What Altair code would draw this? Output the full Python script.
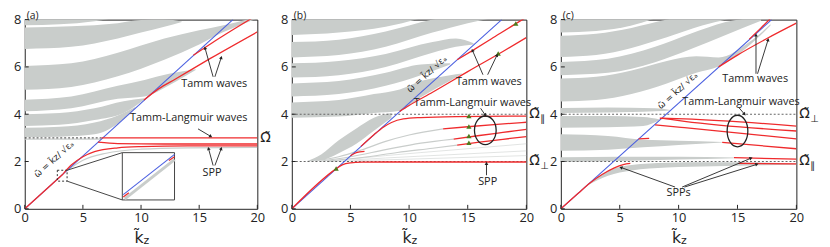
import math
import altair as alt
import pandas as pd

# ------------------------------------------------------------------ data
KZ_TICKS = [0, 5, 10, 15, 20]
W_TICKS = [0, 2, 4, 6, 8]
LIGHT_KZ = [0, 17.9]
LIGHT_W = [0, 8.0]

# ---- panel (a)
A_BANDS = {
    "a0": ([0, 3, 6, 7.5], [7.76, 7.8, 7.93, 8.05], [8.5, 8.5, 8.5, 8.5]),
    "a1": ([0, 4, 8, 10, 12, 13.5], [6.76, 6.85, 7.2, 7.45, 7.7, 7.9], [7.67, 7.72, 7.85, 7.98, 8.0, 7.92]),
    "a2": ([0, 4, 8, 12, 15, 17, 20], [5.03, 5.15, 5.6, 6.3, 6.95, 7.45, 8.05], [6.04, 6.15, 6.6, 7.2, 7.55, 7.75, 8.12]),
    "a3": ([0, 4, 8, 10.3, 12.5, 14.7], [4.12, 4.25, 4.65, 4.75, 5.25, 5.87], [4.61, 4.75, 5.2, 5.45, 5.72, 5.9]),
    "a4": ([0, 3, 6, 8.5, 10.3], [3.5, 3.55, 3.75, 4.05, 4.62], [4.0, 4.05, 4.25, 4.55, 4.67]),
    "a5": ([0, 3, 6, 8, 9.5], [3.03, 3.05, 3.15, 3.6, 4.25], [3.43, 3.47, 3.65, 3.95, 4.3]),
}
A_GREY = {
    "g1": ([3.6, 5, 7, 10, 14, 20], [1.6, 2.05, 2.35, 2.52, 2.58, 2.6]),
    "g2": ([0, 6.6], [2.95, 2.95]),
}
A_RED = {
    "ll": ([0, 3.3], [0, 1.47]),
    "spp1": ([3.3, 4, 5, 6, 8, 10, 14, 20], [1.48, 1.85, 2.2, 2.42, 2.58, 2.63, 2.66, 2.66]),
    "spp2": ([6.3, 8, 12, 20], [2.82, 2.76, 2.74, 2.74]),
    "tl": ([6.6, 20], [3.0, 3.0]),
    "tamm1": ([14.5, 16, 18, 20], [6.49, 6.98, 7.6, 8.2]),
    "tamm2": ([10.25, 11.5, 13, 16, 20], [4.6, 5.07, 5.5, 6.37, 7.48]),
}
A_DASH = [(0, 6.6, 3.0)]

# inset of panel (a), read in the panel's own (kz, omega) units
A_ZOOMBOX = (2.8, 3.64, 1.17, 1.63)
A_INSET = (8.39, 12.88, 0.375, 2.375)
A_INSET_BLUE = ([8.47, 12.88], [0.6, 2.3])
A_INSET_GREY = ([8.6, 12.88], [0.42, 2.08])
A_INSET_RED = {"r1": ([8.47, 8.95], [0.5, 0.68]), "r2": ([12.4, 12.88], [2.04, 2.2])}

# ---- panel (b)
B_BANDS = {
    "b0": ([0, 4, 8, 11], [7.35, 7.45, 7.7, 8.05], [8.5, 8.5, 8.5, 8.5]),
    "b1": ([0, 4, 8, 12, 15, 17], [6.4, 6.5, 6.85, 7.45, 7.85, 8.05], [7.05, 7.15, 7.5, 8.0, 8.3, 8.4]),
    "b2": ([0, 4, 8, 12, 14, 15.5], [5.55, 5.65, 6.0, 6.6, 6.85, 6.95], [6.15, 6.25, 6.55, 7.05, 7.2, 7.0]),
    "b3": ([0, 4, 8, 11, 13.5], [4.75, 4.85, 5.2, 5.65, 6.1], [5.3, 5.4, 5.75, 6.1, 6.15]),
    "b4": ([0, 4, 7, 9.2, 11, 13.5, 14.5], [3.85, 3.9, 4.05, 4.15, 4.72, 5.42, 5.7], [4.5, 4.6, 4.85, 5.05, 5.4, 5.65, 5.72]),
    "b5": ([1.3, 2.5, 4, 5.5, 7, 8.5], [2.0, 2.05, 2.35, 2.75, 3.3, 3.85], [2.02, 2.3, 2.9, 3.4, 3.85, 4.05]),
}
B_GREY = {
    "g2": ([2, 4, 6, 8, 10, 12.9], [2.02, 2.2, 2.5, 2.85, 3.12, 3.38]),
    "g3": ([2.5, 5, 8, 11, 13.8], [2.02, 2.2, 2.5, 2.78, 2.95]),
    "g4": ([3, 6, 9, 12, 14.1], [2.02, 2.17, 2.38, 2.56, 2.69]),
}
B_FAINT = {
    "f1": ([3, 8, 14, 20], [2.0, 2.25, 2.5, 2.75]),
    "f2": ([3, 8, 14, 20], [2.0, 2.15, 2.3, 2.45]),
    "f3": ([3, 10, 20], [2.0, 2.1, 2.25]),
}
B_RED = {
    "spp": ([0, 3.8, 4.3, 5, 6, 8, 12, 20], [0, 1.7, 1.86, 1.94, 1.97, 1.98, 1.98, 1.98]),
    "short": ([5.0, 5.5, 6.2], [2.24, 2.38, 2.43]),
    "tl1": ([5.9, 7, 7.8, 8.5, 9.5, 11, 14, 20], [2.64, 3.13, 3.45, 3.65, 3.8, 3.86, 3.9, 3.92]),
    "tl2": ([12.9, 15, 17.5, 20], [3.38, 3.47, 3.57, 3.66]),
    "tl3": ([13.8, 16, 18, 20], [2.95, 3.1, 3.23, 3.36]),
    "tl4": ([14.1, 16, 18, 20], [2.69, 2.82, 2.94, 3.05]),
    "tamm1": ([14.1, 15.5, 17, 19, 20], [6.3, 6.72, 7.18, 7.8, 8.1]),
    "tamm2": ([9.2, 10, 12, 15, 18, 20], [4.12, 4.37, 4.93, 5.8, 6.65, 7.24]),
}
B_GREEN_KZ = [3.78, 15.1, 15.1, 15.1, 15.1, 17.6, 19.1]
B_GREEN_W = [1.7, 3.92, 3.48, 3.08, 2.79, 6.57, 7.84]
B_DASH = [(0, 20, 4.0), (0, 20, 2.0)]

# ---- panel (c)
C_BANDS = {
    "c0": ([0, 3, 6, 8], [7.46, 7.52, 7.75, 8.05], [8.5, 8.5, 8.5, 8.5]),
    "c1": ([0, 3, 6, 9, 12, 14.5], [6.42, 6.5, 6.8, 7.25, 7.75, 8.05], [7.32, 7.4, 7.65, 8.0, 8.3, 8.4]),
    "c2": ([0, 4, 8, 11, 14, 17], [5.65, 5.75, 6.2, 6.75, 7.35, 7.95], [6.21, 6.35, 6.85, 7.4, 7.9, 8.1]),
    "c3": ([0, 3, 6, 9, 11.5, 13.4, 16, 17.8], [4.54, 4.6, 4.85, 5.3, 5.75, 6.02, 6.9, 7.75],
           [5.51, 5.58, 5.85, 6.25, 6.45, 6.4, 7.05, 7.8]),
    "c4": ([0, 4, 8, 9.3], [4.05, 4.07, 4.12, 4.16], [4.26, 4.28, 4.25, 4.18]),
    "c5": ([0, 4, 7, 8.4], [3.43, 3.45, 3.5, 3.75], [3.92, 3.92, 3.88, 3.78]),
    "c6": ([0, 4, 7, 10, 13.7], [2.46, 2.5, 2.6, 2.7, 2.8], [3.15, 3.08, 2.92, 2.88, 2.83]),
    "c7": ([0, 5, 10, 14.7], [1.98, 2.02, 2.08, 2.14], [2.18, 2.2, 2.2, 2.17]),
    "c8": ([2.3, 4, 6, 9, 13, 17, 20], [1.0, 1.4, 1.62, 1.75, 1.8, 1.84, 1.86], [1.02, 1.6, 1.85, 1.95, 1.97, 1.96, 1.9]),
}
C_RED = {
    "spp": ([0, 1.5, 2.5, 3.5, 4.5, 5.3, 5.9], [0, 0.67, 1.1, 1.45, 1.72, 1.87, 1.92]),
    "short": ([6.6, 7.5], [2.96, 2.98]),
    "tl1": ([8.4, 10.5, 20], [3.83, 3.8, 3.5]),
    "tl2": ([8.6, 10.5, 20], [3.83, 3.7, 3.29]),
    "tl3": ([8.0, 10.5, 20], [3.55, 3.43, 2.96]),
    "tl4": ([13.7, 20], [2.81, 2.54]),
    "lo1": ([14.7, 20], [2.16, 2.1]),
    "lo2": ([15.1, 20], [1.92, 1.9]),
    "tamm1": ([16.0, 17, 18], [7.17, 7.65, 8.15]),
    "tamm2": ([13.4, 15, 17.5, 20], [6.0, 6.5, 7.2, 7.85]),
}
C_DASH = [(0, 20, 4.0), (0, 20, 2.0)]

# ------------------------------------------------------------------ style
H = 192
FONT = "Open Sans"
MATH = "DejaVu Sans"
RED = "#ef2b2d"
BLUE = "#4a5fe0"
BAND = "#c9cdcb"
FAINT = "#e2e4e3"
GREEN = "#4d7a1c"
INK = "#222222"

SX = alt.Scale(domain=[0, 20], nice=False, zero=False)
SY = alt.Scale(domain=[0, 8], nice=False, zero=False)
AXX = alt.Axis(values=KZ_TICKS, ticks=False, domain=False, grid=False, title=None,
               labelFlush=False, labelFont=FONT, labelFontSize=13, labelColor=INK, labelPadding=3)
AXY = alt.Axis(values=W_TICKS, ticks=False, domain=False, grid=False, title=None,
               labelFlush=False, labelFont=FONT, labelFontSize=13, labelColor=INK, labelPadding=4)


def X(f="kz"):
    return alt.X(f"{f}:Q", scale=SX, axis=AXX)


def Y(f="w"):
    return alt.Y(f"{f}:Q", scale=SY, axis=AXY)


def curves_df(d):
    rows = []
    for name, (ks, ws) in d.items():
        for i, (k, w) in enumerate(zip(ks, ws)):
            rows.append({"curve": name, "kz": k, "w": w, "i": i})
    return pd.DataFrame(rows)


def bands_df(d):
    rows = []
    for name, (ks, lo, hi) in d.items():
        for k, a, b in zip(ks, lo, hi):
            rows.append({"band": name, "kz": k, "lo": a, "hi": b})
    return pd.DataFrame(rows)


def line_layer(d, color, width, interp="monotone"):
    return alt.Chart(curves_df(d)).mark_line(color=color, strokeWidth=width, interpolate=interp, clip=True).encode(
        x=X(), y=Y(), detail="curve:N", order="i:Q")


def panel(p):
    W = p["width"]
    L = []
    L.append(alt.Chart(bands_df(p["bands"])).mark_area(color=BAND, interpolate="monotone", clip=True).encode(
        x=X(), y=Y("lo"), y2="hi:Q", detail="band:N"))
    if p.get("faint"):
        L.append(line_layer(p["faint"], FAINT, 1.0))
    if p.get("grey"):
        L.append(line_layer(p["grey"], BAND, 1.2))
    dd = pd.DataFrame([{"kz": a, "kz2": b, "w": w} for a, b, w in p["dash"]])
    L.append(alt.Chart(dd).mark_rule(color="#666666", strokeDash=[2, 2], strokeWidth=1.1).encode(
        x=X(), x2="kz2:Q", y=Y()))
    L.append(line_layer({"ll": (LIGHT_KZ, LIGHT_W)}, BLUE, 1.1, "linear"))
    L.append(line_layer(p["red"], RED, 1.3))
    for extra in p.get("extras", []):
        L.append(extra)
    if p.get("green"):
        gdf = pd.DataFrame({"kz": p["green"][0], "w": p["green"][1]})
        L.append(alt.Chart(gdf).mark_point(shape="triangle-up", filled=True, color=GREEN, size=28, opacity=1).encode(
            x=X(), y=Y()))
    for (k, w, wpx, hpx) in p.get("ellipses", []):
        r = wpx / hpx
        shape = f"M 0 -1 A {r:.3f} 1 0 1 1 0 1 A {r:.3f} 1 0 1 1 0 -1 Z"
        L.append(alt.Chart(pd.DataFrame({"kz": [k], "w": [w]})).mark_point(
            shape=shape, size=hpx * hpx, filled=False, color=INK, strokeWidth=1.3, opacity=1).encode(x=X(), y=Y()))
    rows = []
    for (k1, w1, k2, w2) in p["arrows"]:
        dx = (k2 - k1) * W / 20
        dy = -(w2 - w1) * H / 8
        ang = math.degrees(math.atan2(dx, -dy)) % 360
        rows.append({"kz": k1, "w": w1, "kz2": k2, "w2": w2, "ang": ang})
    adf = pd.DataFrame(rows)
    L.append(alt.Chart(adf).mark_rule(color=INK, strokeWidth=0.9).encode(x=X(), y=Y(), x2="kz2:Q", y2="w2:Q"))
    L.append(alt.Chart(adf).mark_point(shape="triangle-up", filled=True, color=INK, size=14, opacity=1).encode(
        x=X("kz2"), y=Y("w2"), angle=alt.Angle("ang:Q", scale=None)))
    tdf = pd.DataFrame([{"kz": k, "w": w, "t": t} for k, w, t in p["texts"]])
    L.append(alt.Chart(tdf).mark_text(font=FONT, fontSize=11, color=INK).encode(x=X(), y=Y(), text="t:N"))
    k, w = p["ll_label"]
    L.append(alt.Chart(pd.DataFrame({"kz": [k], "w": [w], "t": ["ω̃ = k̃z/ √εₐ"]})).mark_text(
        font=MATH, fontSize=9, angle=318, color=INK).encode(x=X(), y=Y(), text="t:N"))
    odf = pd.DataFrame([{"w": w, "t": "Ω̃", "s": s} for w, s in p["omegas"]])
    L.append(alt.Chart(odf).mark_text(font=MATH, fontSize=14, align="left", baseline="middle", color=INK).encode(
        x=alt.value(W + 3), y=Y(), text="t:N"))
    L.append(alt.Chart(odf).mark_text(font=MATH, fontSize=10, align="left", baseline="middle", dy=5, color=INK).encode(
        x=alt.value(W + 14), y=Y(), text="s:N"))
    L.append(alt.Chart(pd.DataFrame({"kz": KZ_TICKS})).mark_rule(color=INK).encode(
        x=X(), y=alt.value(H), y2=alt.value(H - 4)))
    L.append(alt.Chart(pd.DataFrame({"w": W_TICKS})).mark_rule(color=INK).encode(
        y=Y(), x=alt.value(0), x2=alt.value(4)))
    lab = pd.DataFrame({"t": [p["letter"]]})
    L.append(alt.Chart(lab).mark_text(font=FONT, fontSize=10.5, align="left", baseline="middle", color=INK).encode(
        x=alt.value(2), y=alt.value(-4), text="t:N"))
    L.append(alt.Chart(pd.DataFrame({"t": ["k̃"]})).mark_text(font=MATH, fontSize=16, align="center", color=INK).encode(
        x=alt.value(W / 2 - 2), y=alt.value(H + 30), text="t:N"))
    L.append(alt.Chart(pd.DataFrame({"t": ["z"]})).mark_text(font=MATH, fontSize=11, align="left", color=INK).encode(
        x=alt.value(W / 2 + 2.5), y=alt.value(H + 33), text="t:N"))
    return alt.layer(*L).properties(width=W, height=H)


def inset_layers():
    box = pd.DataFrame([{"kz": A_INSET[0], "kz2": A_INSET[1], "w": A_INSET[2], "w2": A_INSET[3]}])
    zb = pd.DataFrame([{"kz": A_ZOOMBOX[0], "kz2": A_ZOOMBOX[1], "w": A_ZOOMBOX[2], "w2": A_ZOOMBOX[3]}])
    con = pd.DataFrame([
        {"kz": A_ZOOMBOX[1], "w": A_ZOOMBOX[3], "kz2": A_INSET[0], "w2": A_INSET[3]},
        {"kz": A_ZOOMBOX[1], "w": A_ZOOMBOX[2], "kz2": A_INSET[0], "w2": A_INSET[2]},
    ])
    return [
        alt.Chart(con).mark_rule(color="#444444", strokeWidth=1).encode(x=X(), y=Y(), x2="kz2:Q", y2="w2:Q"),
        alt.Chart(box).mark_rect(fill="white", stroke="#444444", strokeWidth=1).encode(
            x=X(), x2="kz2:Q", y=Y(), y2="w2:Q"),
        alt.Chart(zb).mark_rect(fill=None, stroke="#333333", strokeDash=[2, 2], strokeWidth=1).encode(
            x=X(), x2="kz2:Q", y=Y(), y2="w2:Q"),
        line_layer({"ig": A_INSET_GREY}, BAND, 3, "linear"),
        line_layer({"ib": A_INSET_BLUE}, BLUE, 1.1, "linear"),
        line_layer(A_INSET_RED, RED, 1.3, "linear"),
    ]


PA = dict(
    letter="(a)", width=236, bands=A_BANDS, grey=A_GREY, red=A_RED, dash=A_DASH,
    extras=inset_layers(),
    arrows=[(16.2, 5.58, 15.5, 6.8), (16.35, 5.58, 16.9, 6.4), (14.9, 3.38, 16.0, 3.06),
            (16.2, 1.83, 15.8, 2.55), (16.35, 1.83, 16.9, 2.55)],
    texts=[(16.3, 5.29, "Tamm  waves"), (14.1, 3.83, "Tamm-Langmuir  waves"), (16.1, 1.5, "SPP")],
    ll_label=(2.5, 2.1),
    omegas=[(3.0, "")],
)
PB = dict(
    letter="(b)", width=238, bands=B_BANDS, grey=B_GREY, faint=B_FAINT, red=B_RED, dash=B_DASH,
    green=(B_GREEN_KZ, B_GREEN_W),
    ellipses=[(16.5, 3.32, 22, 29)],
    arrows=[(16.3, 5.67, 15.4, 6.7), (16.7, 5.67, 17.5, 6.5), (16.1, 4.25, 16.5, 3.96), (16.6, 1.42, 16.6, 1.92)],
    texts=[(16.8, 5.38, "Tamm  waves"), (15.4, 4.46, "Tamm-Langmuir  waves"), (16.7, 1.12, "SPP")],
    ll_label=(11.5, 5.7),
    omegas=[(4.0, "∥"), (2.0, "⊥")],
)
PC = dict(
    letter="(c)", width=239, bands=C_BANDS, red=C_RED, dash=C_DASH,
    ellipses=[(15.0, 3.29, 21, 32)],
    arrows=[(16.57, 5.71, 16.57, 7.35), (16.7, 5.71, 17.6, 7.15), (15.1, 4.29, 15.6, 4.0),
            (9.7, 0.92, 5.1, 1.75), (10.3, 0.92, 16.15, 2.14), (10.5, 0.92, 16.65, 1.88)],
    texts=[(16.5, 5.5, "Tamm  waves"), (15.3, 4.5, "Tamm-Langmuir  waves"), (10.0, 0.67, "SPPs")],
    ll_label=(9.9, 5.0),
    omegas=[(4.0, "⊥"), (2.0, "∥")],
)

chart = alt.hconcat(panel(PA), panel(PB), panel(PC), spacing=35, bounds="flush").configure_view(
    stroke=INK, strokeWidth=1).properties(padding={"left": 5, "top": 0, "right": 2, "bottom": 0})

chart.save("out.html", embed_options={"renderer": "svg", "actions": False})
